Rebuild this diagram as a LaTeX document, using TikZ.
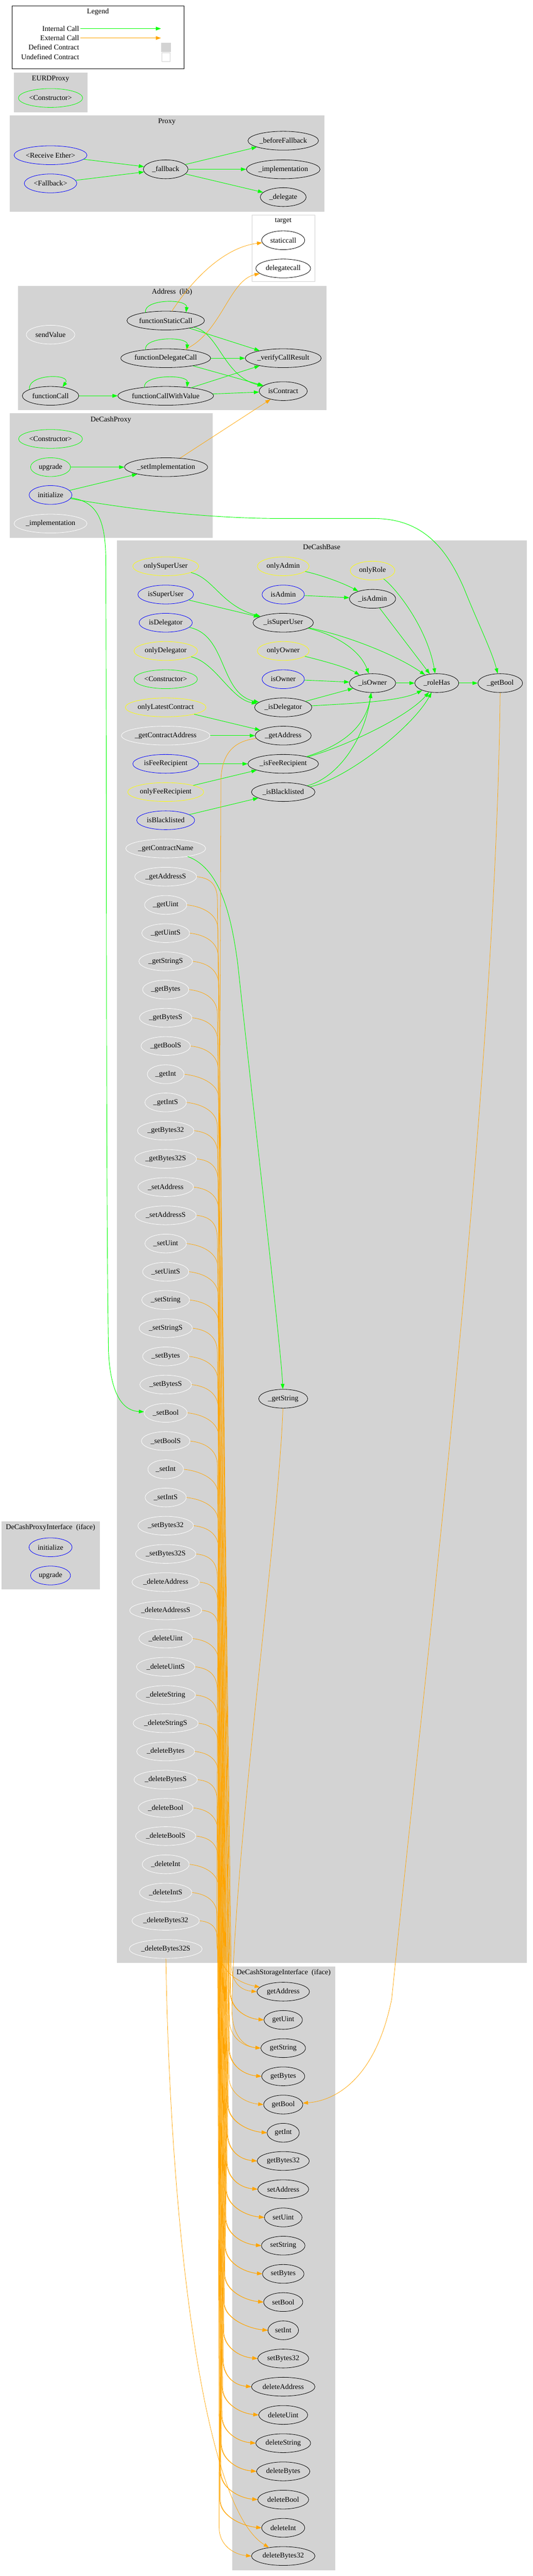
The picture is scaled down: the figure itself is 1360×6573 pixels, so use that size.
\documentclass[tikz,border=0pt]{standalone}
\usepackage{fontspec}
\setmainfont{Liberation Serif}
\usetikzlibrary{shapes.geometric,arrows.meta,calc}
\definecolor{cgreen}{HTML}{00FF00}
\definecolor{corange}{HTML}{FFA500}
\definecolor{cyellow}{HTML}{FFFF00}
\definecolor{cblue}{HTML}{0000FF}
\definecolor{cgray}{HTML}{D3D3D3}
\newcommand\gvf{\fontsize{14}{16}\selectfont}
\tikzset{
  fnode/.style={ellipse, draw, line width=0.8pt, inner sep=0pt, minimum height=36pt, minimum width={#1*1.5pt}, font=\gvf},
  defn/.style={fnode=#1, draw=black},
  pubn/.style={fnode=#1, draw=cblue},
  modn/.style={fnode=#1, draw=cyellow},
  ctorn/.style={fnode=#1, draw=cgreen},
  undn/.style={fnode=#1, draw=white},
  intc/.style={draw=cgreen, line width=0.9pt, -{Triangle[length=10pt,width=7pt]}},
  extc/.style={draw=corange, line width=0.75pt, -{Triangle[length=10pt,width=7pt]}},
  clus/.style={fill=cgray, draw=cgray, line width=0.75pt},
  ctitle/.style={font=\gvf, inner sep=0pt},
  lgtext/.style={font=\gvf, inner sep=0pt, anchor=east}
}
\begin{document}
\begin{tikzpicture}[x=0.75pt,y=-0.75pt]
\useasboundingbox (0,0) rectangle (1360,6573);
\fill[white] (0,0) rectangle (1360,6573);

% ---------------- clusters ----------------
\draw[black, line width=0.8pt] (31,15) rectangle (470,176);
\draw[clus] (36,186) rectangle (223,286);
\draw[clus] (25,295) rectangle (828,539);
\draw[draw=cgray, fill=white, line width=0.9pt] (643,549) rectangle (804,719);
\draw[clus] (46,730) rectangle (832,1045);
\draw[clus] (25,1055) rectangle (542,1371);
\draw[clus] (299,1380) rectangle (1344,5008);
\draw[clus] (5,3883) rectangle (254,4055);
\draw[clus] (593,5018) rectangle (855,6557);

% ---------------- titles ----------------
\node[ctitle] (tLegend) at (250,30) {Legend};
\node[ctitle] (tEURD) at (129,201) {EURDProxy};
\node[ctitle] (tProxy) at (426,311) {Proxy};
\node[ctitle] (tTarget) at (723,564) {target};
\node[ctitle] (tAddr) at (439,746) {Address~~(lib)};
\node[ctitle] (tDCP) at (283,1071) {DeCashProxy};
\node[ctitle] (tDCB) at (821,1396) {DeCashBase};
\node[ctitle] (tDCPI) at (129,3898) {DeCashProxyInterface~~(iface)};
\node[ctitle] (tDCSI) at (724,5033) {DeCashStorageInterface~~(iface)};

% ---------------- legend ----------------
\node[lgtext] (lg1) at (202,73) {Internal Call};
\node[lgtext] (lg2) at (202,97) {External Call};
\node[lgtext] (lg3) at (202,121) {Defined Contract};
\node[lgtext] (lg4) at (202,145) {Undefined Contract};
\coordinate (li1a) at (205,73); \coordinate (li1b) at (411,73);
\coordinate (li2a) at (205,97); \coordinate (li2b) at (411,97);
\draw[intc, line width=1.2pt] (li1a) -- (li1b);
\draw[extc, line width=1.2pt] (li2a) -- (li2b);
\fill[cgray] (411,109) rectangle (437,133);
\draw[cgray, fill=white, line width=0.8pt] (413,135) rectangle (434,157);

% ---------------- EURDProxy ----------------
\node[ctorn=82] (eCt) at (129,250) {<Constructor>};

% ---------------- Proxy ----------------
\node[pubn=93] (rcv) at (129,396) {<Receive Ether>};
\node[pubn=67] (fbk) at (129,468) {<Fallback>};
\node[defn=57] (pfb) at (423,432) {\_fallback};
\node[defn=90] (bfb) at (723,359) {\_beforeFallback};
\node[defn=94] (pim) at (723,432) {\_implementation};
\node[defn=58.5] (dlg) at (723,503) {\_delegate};

% ---------------- target ----------------
\node[defn=55] (stc) at (723,613) {staticcall};
\node[defn=70] (dgc) at (723,685) {delegatecall};

% ---------------- Address ----------------
\node[defn=99] (fsc) at (423,818) {functionStaticCall};
\node[undn=62] (sdv) at (129,854) {sendValue};
\node[defn=114.5] (fdc) at (423,914) {functionDelegateCall};
\node[defn=97] (vcr) at (723,914) {\_verifyCallResult};
\node[defn=72] (fc) at (129,1010) {functionCall};
\node[defn=122] (fcwv) at (423,1010) {functionCallWithValue};
\node[defn=61.4] (isc) at (723,998) {isContract};

% ---------------- DeCashProxy ----------------
\node[ctorn=81.5] (dpCt) at (129,1120) {<Constructor>};
\node[ctorn=51] (upg) at (129,1192) {upgrade};
\node[defn=106] (simp) at (424,1192) {\_setImplementation};
\node[pubn=54.6] (init) at (129,1263) {initialize};
\node[undn=93] (dpImp) at (129,1336) {\_implementation};

% ---------------- DeCashProxyInterface ----------------
\node[pubn=55] (piInit) at (129,3948) {initialize};
\node[pubn=51] (piUpg) at (129,4020) {upgrade};

% ---------------- DeCashBase ----------------
\node[modn=84] (oSU) at (423,1445) {onlySuperUser};
\node[modn=66] (oAd) at (723,1445) {onlyAdmin};
\node[modn=57] (oRo) at (951,1456) {onlyRole};
\node[pubn=71] (iSU) at (423,1517) {isSuperUser};
\node[pubn=54] (iAd) at (723,1517) {isAdmin};
\node[defn=59] (pAd) at (951,1528) {\_isAdmin};
\node[pubn=68] (iDe) at (423,1589) {isDelegator};
\node[defn=77] (pSU) at (723,1589) {\_isSuperUser};
\node[modn=81] (oDe) at (423,1661) {onlyDelegator};
\node[modn=66] (oOw) at (723,1661) {onlyOwner};
\node[ctorn=81] (bCt) at (423,1733) {<Constructor>};
\node[pubn=54] (iOw) at (723,1733) {isOwner};
\node[defn=59] (pOw) at (951,1743) {\_isOwner};
\node[defn=56] (rHa) at (1115,1743) {\_roleHas};
\node[defn=57] (gBool) at (1277,1743) {\_getBool};
\node[modn=103] (oLC) at (423,1805) {onlyLatestContract};
\node[defn=73] (pDe) at (723,1805) {\_isDelegator};
\node[undn=113] (gCA) at (423,1877) {\_getContractAddress};
\node[defn=71.5] (gAddr) at (723,1877) {\_getAddress};
\node[pubn=84] (iFR) at (423,1949) {isFeeRecipient};
\node[defn=90] (pFR) at (723,1949) {\_isFeeRecipient};
\node[modn=97] (oFR) at (423,2021) {onlyFeeRecipient};
\node[defn=81] (pBL) at (723,2021) {\_isBlacklisted};
\node[pubn=74] (iBL) at (423,2093) {isBlacklisted};
\node[undn=102] (gCN) at (423,2165) {\_getContractName};
\node[defn=62.5] (gStr) at (723,3569) {\_getString};

\foreach \nm/\lb/\rx/\ti [count=\k from 0] in {gAddrS/getAddressS/79/0, gUint/getUint/54/1, gUintS/getUintS/61/1, gStrS/getStringS/68.5/2, gByt/getBytes/59/3, gBytS/getBytesS/67/3, gBoolS/getBoolS/63/4, gInt/getInt/47/5, gIntS/getIntS/53/5, gBtt/getBytes32/72/6, gBttS/getBytes32S/79/6, sAddr/setAddress/71/7, sAddrS/setAddressS/78/7, sUint/setUint/53/8, sUintS/setUintS/59/8, sStr/setString/61/9, sStrS/setStringS/68/9, sByt/setBytes/59/10, sBytS/setBytesS/66/10, sBool/setBool/55/11, sBoolS/setBoolS/62/11, sInt/setInt/45.5/12, sIntS/setIntS/52.5/12, sBtt/setBytes32/71/13, sBttS/setBytes32S/77/13, dAddr/deleteAddress/86/14, dAddrS/deleteAddressS/92/14, dUint/deleteUint/68.5/15, dUintS/deleteUintS/74.5/15, dStr/deleteString/76/16, dStrS/deleteStringS/83/16, dByt/deleteBytes/74/17, dBytS/deleteBytesS/81/17, dBool/deleteBool/70/18, dBoolS/deleteBoolS/77/18, dInt/deleteInt/60/19, dIntS/deleteIntS/67/19, dBtt/deleteBytes32/86/20, dBttS/deleteBytes32S/93/20}
{
  \node[undn=\rx] (\nm) at (423,{2237+72*\k}) {\_\lb};
}

% ---------------- DeCashStorageInterface ----------------
\foreach \lb/\rx [count=\i from 0] in {getAddress/67, getUint/49, getString/57, getBytes/55, getBool/50, getInt/41, getBytes32/66.5, setAddress/65, setUint/48, setString/55.6, setBytes/53, setBool/50, setInt/39, setBytes32/65, deleteAddress/81, deleteUint/62.5, deleteString/70, deleteBytes/68, deleteBool/65, deleteInt/55, deleteBytes32/81}
{
  \node[defn=\rx] (t\i) at (723,{5082+72*\i}) {\lb};
}

% ================= edges =================
% Proxy
\draw[intc] (rcv) -- (pfb);
\draw[intc] (fbk) -- (pfb);
\draw[intc] (pfb) -- (bfb);
\draw[intc] (pfb) -- (pim);
\draw[intc] (pfb) -- (dlg);

% Address loops
\draw[intc] (fsc.158) .. controls (367,762) and (480,762) .. (fsc.22);
\draw[intc] (fdc.157) .. controls (367,858) and (481,858) .. (fdc.22);
\draw[intc] (fcwv.158) .. controls (365,955) and (481,955) .. (fcwv.22);
\draw[intc] (fc.163) .. controls (70,953) and (184,953) .. (fc.36);

% Address edges
\draw[intc] (fsc) -- (vcr);
\draw[intc] (fsc) .. controls (560,850) and (570,960) .. (isc);
\draw[extc] (fsc) .. controls (500,700) and (580,630) .. (stc);
\draw[intc] (fdc) -- (vcr);
\draw[intc] (fdc) -- (isc);
\draw[extc] (fdc) .. controls (565,850) and (585,715) .. (dgc);
\draw[intc] (fcwv) -- (vcr);
\draw[intc] (fcwv) -- (isc);
\draw[intc] (fc) -- (fcwv);

% DeCashProxy edges
\draw[intc] (upg) -- (simp);
\draw[intc] (init) -- (simp);
\draw[extc] (simp) -- (isc);
\draw[intc] (init) .. controls (400,1312) and (600,1323) .. (711,1323) -- (954,1323)
   .. controls (1080,1323) and (1140,1400) .. (1184,1500)
   .. controls (1220,1590) and (1255,1660) .. (gBool);
\draw[intc] (init) .. controls (250,1280) and (268,1330) .. (270,1420)
   .. controls (273,2200) and (270,3000) .. (277,3450)
   .. controls (283,3570) and (320,3600) .. (sBool);

% DeCashBase edges
\draw[intc] (oSU) .. controls (545,1475) and (565,1545) .. (pSU);
\draw[intc] (iSU) -- (pSU);
\draw[intc] (oAd) .. controls (830,1470) and (880,1490) .. (pAd);
\draw[intc] (iAd) -- (pAd);
\draw[intc] (oRo) .. controls (1010,1500) and (1090,1600) .. (rHa);
\draw[intc] (pAd) -- (rHa);
\draw[intc] (pSU) .. controls (840,1615) and (915,1650) .. (pOw);
\draw[intc] (pSU) .. controls (880,1620) and (1010,1670) .. (rHa);
\draw[intc] (iDe) .. controls (580,1620) and (560,1770) .. (pDe);
\draw[intc] (oDe) .. controls (550,1690) and (590,1785) .. (pDe);
\draw[intc] (oOw) .. controls (840,1690) and (890,1705) .. (pOw);
\draw[intc] (iOw) -- (pOw);
\draw[intc] (pOw) -- (rHa);
\draw[intc] (rHa) -- (gBool);
\draw[intc] (pDe) -- (pOw);
\draw[intc] (pDe) .. controls (900,1795) and (1020,1790) .. (rHa);
\draw[intc] (oLC) -- (gAddr);
\draw[intc] (gCA) -- (gAddr);
\draw[intc] (iFR) -- (pFR);
\draw[intc] (pFR) .. controls (880,1900) and (935,1850) .. (pOw);
\draw[intc] (pFR) .. controls (880,1905) and (1040,1830) .. (rHa);
\draw[intc] (oFR) -- (pFR);
\draw[intc] (iBL) -- (pBL);
\draw[intc] (pBL) .. controls (860,1985) and (930,1890) .. (pOw);
\draw[intc] (pBL) .. controls (880,1990) and (1050,1860) .. (rHa);
\draw[intc] (gCN) .. controls (560,2215) and (590,2330) .. (607,2460)
   .. controls (660,2950) and (718,3450) .. (gStr);

% external calls into storage interface
\draw[extc] (gAddr) .. controls (600,1890) and (566,1920) .. (564,1990) -- (553,4950)
   .. controls (553,5030) and (610,5060) .. (t0);
\draw[extc] (gStr) .. controls (712,3900) and (600,4700) .. (592,5120)
   .. controls (590,5190) and (620,5222) .. (t2.west);
\draw[extc] (gBool) .. controls (1265,2800) and (1080,4300) .. (1000,5100)
   .. controls (960,5300) and (860,5360) .. (t4);
\draw[extc] (dBttS) .. controls (435,5700) and (520,6400) .. (t20);

\foreach \nm/\rx/\ti [count=\k from 0] in {gAddrS/79/0, gUint/54/1, gUintS/61/1, gStrS/68.5/2, gByt/59/3, gBytS/67/3, gBoolS/63/4, gInt/47/5, gIntS/53/5, gBtt/72/6, gBttS/79/6, sAddr/71/7, sAddrS/78/7, sUint/53/8, sUintS/59/8, sStr/61/9, sStrS/68/9, sByt/59/10, sBytS/66/10, sBool/55/11, sBoolS/62/11, sInt/45.5/12, sIntS/52.5/12, sBtt/71/13, sBttS/77/13, dAddr/86/14, dAddrS/92/14, dUint/68.5/15, dUintS/74.5/15, dStr/76/16, dStrS/83/16, dByt/74/17, dBytS/81/17, dBool/70/18, dBoolS/77/18, dInt/60/19, dIntS/67/19, dBtt/86/20}
{
  \pgfmathsetmacro\sy{2237+72*\k}
  \pgfmathsetmacro\sx{423+\rx}
  \pgfmathsetmacro\ty{5082+72*\ti}
  \pgfmathsetmacro\xt{555+mod(\k,4)*1.2}
  \pgfmathsetmacro\xb{590-1.45*\ti-mod(\k,2)*1.5}
  \draw[extc] (\nm.east) .. controls (\sx+38,\sy+4) and (\xt,\sy+22) .. (\xt,\sy+62)
     -- (\xb,\ty-72) .. controls (\xb,\ty-28) and ($(t\ti.west)+(-45,-4)$) .. (t\ti.west);
}
\end{tikzpicture}
\end{document}
